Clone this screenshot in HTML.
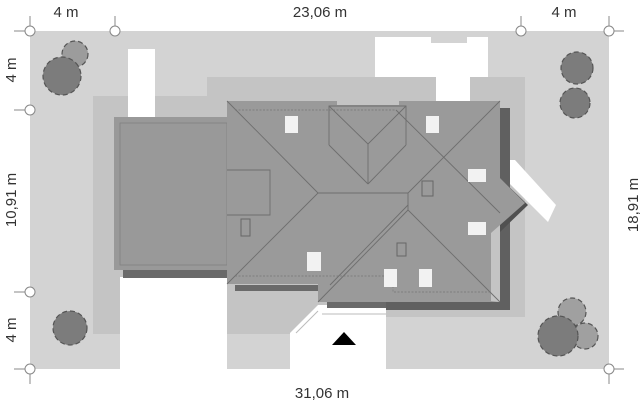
<!DOCTYPE html>
<html><head><style>
body{margin:0;background:#fff;}
svg{display:block;font-family:"Liberation Sans",sans-serif;}
</style></head><body>
<svg width="643" height="406" viewBox="0 0 643 406">
<rect x="30" y="31" width="579" height="338" fill="#d3d3d3"/>
<!-- medium zone -->
<polygon points="93,96 207,96 207,77 525,77 525,317 386,317 386,334 93,334" fill="#c4c4c4"/>
<!-- white areas -->
<rect x="128" y="49" width="27" height="68" fill="#fff"/>
<rect x="120" y="277" width="107" height="92" fill="#fff"/>
<rect x="375" y="37" width="56" height="40" fill="#fff"/>
<rect x="431" y="43" width="36" height="34" fill="#fff"/>
<rect x="467" y="37" width="21" height="40" fill="#fff"/>
<rect x="436" y="77" width="34" height="25" fill="#fff"/>
<polygon points="318,305 386,305 386,369 290,369 290,333" fill="#fff"/>
<line x1="318" y1="311" x2="296" y2="333" stroke="#bbb" stroke-width="1"/>
<line x1="322" y1="314" x2="386" y2="314" stroke="#bbb"/>
<polygon points="505,160 515,160 556,205 548,222 508,182" fill="#fff"/>
<!-- shadows -->
<rect x="500" y="108" width="10" height="200" fill="#606060"/>
<rect x="327" y="302" width="183" height="6" fill="#6a6a6a"/>
<rect x="386" y="302" width="124" height="8" fill="#606060"/>
<rect x="123" y="270" width="104" height="8" fill="#6a6a6a"/>
<rect x="235" y="285" width="83" height="6" fill="#6a6a6a"/>
<polygon points="500,178 528,205 500,232" fill="#505050"/>
<!-- garage roof -->
<rect x="114" y="117" width="114" height="153" fill="#999"/>
<rect x="120" y="123" width="107" height="142" fill="none" stroke="#808080" stroke-width="0.8"/>
<!-- main roof -->
<polygon points="227,101 337,101 337,105 399,105 399,101 500,101 500,178 525,203 491,233 491,301 500,302 318,302 318,284 227,284" fill="#9a9a9a"/>
<g stroke="#6e6e6e" stroke-width="0.9" fill="none">
<polyline points="227,170 270,170 270,215 227,215"/>
<line x1="227" y1="101" x2="318" y2="193"/>
<line x1="318" y1="193" x2="227" y2="284"/>
<line x1="318" y1="193" x2="408" y2="193"/>
<line x1="408" y1="193" x2="500" y2="101"/>
<line x1="408" y1="193" x2="408" y2="210"/>
<line x1="408" y1="210" x2="318" y2="302"/>
<line x1="408" y1="210" x2="500" y2="302"/>
<polyline points="329,145 329,106 406,106 406,145"/>
<line x1="329" y1="106" x2="368" y2="144"/>
<line x1="406" y1="106" x2="368" y2="144"/>
<line x1="368" y1="144" x2="368" y2="184"/>
<line x1="329" y1="145" x2="368" y2="184"/>
<line x1="406" y1="145" x2="368" y2="184"/>
<line x1="396" y1="110" x2="500" y2="213"/>
<line x1="330" y1="285" x2="408" y2="205"/>
</g>
<g stroke="#777" stroke-width="0.7" fill="none" stroke-dasharray="2,1.5">
<polyline points="235,110 396,110"/>
<polyline points="235,276 393,276 393,292 491,292"/>
</g>
<!-- windows -->
<g fill="#f2f2f2">
<rect x="285" y="116" width="13" height="17"/>
<rect x="426" y="116" width="13" height="17"/>
<rect x="468" y="169" width="18" height="13"/>
<rect x="468" y="222" width="18" height="13"/>
<rect x="307" y="252" width="14" height="19"/>
<rect x="384" y="269" width="13" height="18"/>
<rect x="419" y="269" width="13" height="18"/>
</g>
<g fill="none" stroke="#666" stroke-width="1">
<rect x="241" y="219" width="9" height="17"/>
<rect x="422" y="181" width="11" height="15"/>
<rect x="397" y="243" width="9" height="13"/>
</g>
<polygon points="344,332 356,345 332,345" fill="#000"/>
<!-- trees -->
<g stroke="#555" stroke-width="1.2" stroke-dasharray="5,3">
<circle cx="75" cy="54" r="13" fill="#9c9c9c"/>
<circle cx="62" cy="76" r="19" fill="#7c7c7c"/>
<circle cx="577" cy="68" r="16" fill="#7c7c7c"/>
<circle cx="575" cy="103" r="15" fill="#7c7c7c"/>
<circle cx="70" cy="328" r="17" fill="#7c7c7c"/>
<circle cx="572" cy="312" r="14" fill="#a0a0a0"/>
<circle cx="585" cy="336" r="13" fill="#a0a0a0"/>
<circle cx="558" cy="336" r="20" fill="#7c7c7c"/>
</g>
<!-- dimension markers -->
<g stroke="#888" stroke-width="1" fill="#fff">
<line x1="30" y1="16" x2="30" y2="31"/><line x1="14" y1="31" x2="30" y2="31"/>
<line x1="115" y1="16" x2="115" y2="31"/>
<line x1="521" y1="16" x2="521" y2="31"/>
<line x1="609" y1="16" x2="609" y2="31"/><line x1="609" y1="31" x2="624" y2="31"/>
<line x1="14" y1="110" x2="30" y2="110"/>
<line x1="14" y1="292" x2="30" y2="292"/>
<line x1="14" y1="369" x2="30" y2="369"/><line x1="30" y1="369" x2="30" y2="384"/>
<line x1="609" y1="369" x2="624" y2="369"/><line x1="609" y1="369" x2="609" y2="384"/>
<circle cx="30" cy="31" r="5"/><circle cx="115" cy="31" r="5"/>
<circle cx="521" cy="31" r="5"/><circle cx="609" cy="31" r="5"/>
<circle cx="30" cy="110" r="5"/><circle cx="30" cy="292" r="5"/>
<circle cx="30" cy="369" r="5"/><circle cx="609" cy="369" r="5"/>
</g>
<g fill="#333" font-size="15" text-anchor="middle">
<text x="66" y="17">4 m</text>
<text x="320" y="17">23,06 m</text>
<text x="564" y="17">4 m</text>
<text x="322" y="398">31,06 m</text>
<text transform="translate(16,70) rotate(-90)">4 m</text>
<text transform="translate(16,200) rotate(-90)">10,91 m</text>
<text transform="translate(16,330) rotate(-90)">4 m</text>
<text transform="translate(638,205) rotate(-90)">18,91 m</text>
</g>
</svg>
</body></html>
